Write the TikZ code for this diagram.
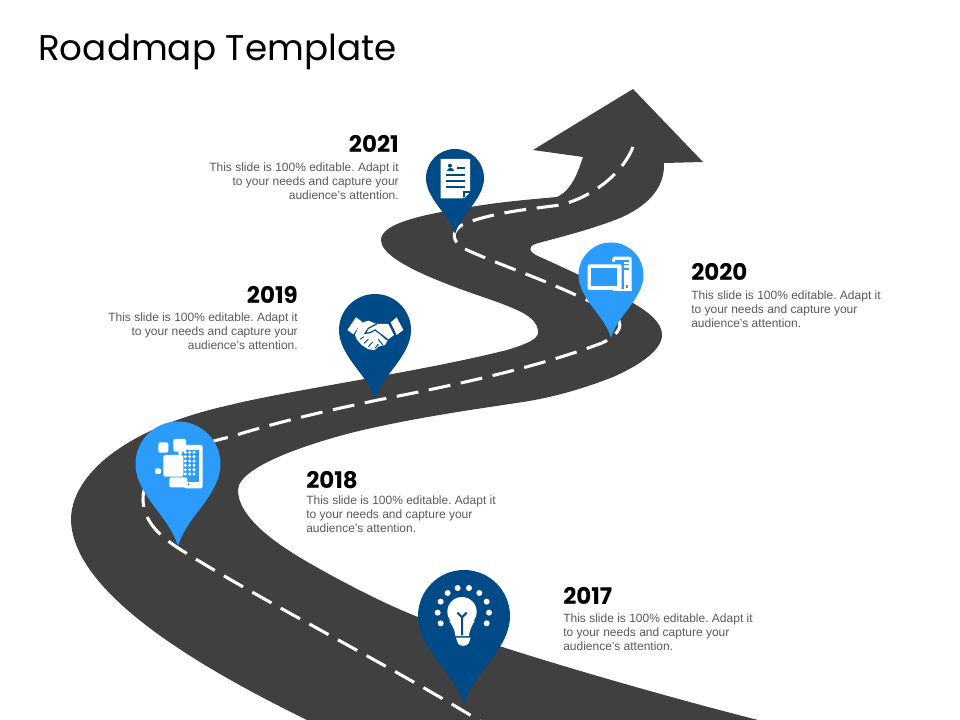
\documentclass[tikz,border=0pt]{standalone}
\usepackage{fontspec}
\setmainfont{Liberation Sans}
\newfontfamily\headfont{Poppins}
\definecolor{roadgray}{HTML}{404040}
\definecolor{pindark}{HTML}{004B87}
\definecolor{pinlight}{HTML}{2B9CFC}
\definecolor{bodygray}{HTML}{595959}
\tikzset{
  yearlabel/.style={inner sep=0pt,font=\headfont\bfseries\fontsize{17.2}{18}\selectfont,text=black},
  bodyleft/.style={inner sep=0pt,anchor=north west,align=left,text=bodygray,font=\frenchspacing\fontsize{9}{10.5}\selectfont},
  bodyright/.style={inner sep=0pt,anchor=north east,align=right,text=bodygray,font=\frenchspacing\fontsize{9}{10.5}\selectfont},
}
\newcommand{\mappin}[4]{% cx cy r colour
  \begin{scope}[shift={(#1,#2)},scale=#3]
    \fill[#4] (0,0) circle[radius=1];
    \fill[#4] (-0.93,0.37) .. controls (-0.68,1.0) and (-0.2,1.3) .. (0,1.93)
       .. controls (0.2,1.3) and (0.68,1.0) .. (0.93,0.37) -- cycle;
  \end{scope}}
\begin{document}
\begin{tikzpicture}[x=0.75pt,y=-0.75pt]
\useasboundingbox (0,0) rectangle (960,720);
% road
\fill[roadgray] (307,720) .. controls (205,670) and (73,595) .. (71,520)
  .. controls (71,475) and (125,428) .. (230,405)
  .. controls (290,390) and (420,372) .. (507,350)
  .. controls (530,343) and (540,338) .. (538,330)
  .. controls (536,316) and (515,309) .. (500,303)
  .. controls (470,292) and (381,265) .. (381,240)
  .. controls (381,222) and (430,213) .. (483,205)
  .. controls (510,201) and (535,199) .. (557,197)
  .. controls (572,190) and (578,172) .. (583,157)
  -- (533,150) -- (633,89) -- (703,162) -- (664,163)
  .. controls (665,190) and (645,207) .. (620,218)
  .. controls (590,230) and (560,237) .. (535,244)
  .. controls (528,247) and (528,252) .. (540,257)
  .. controls (560,266) and (600,284) .. (633,303)
  .. controls (650,313) and (662,323) .. (662,335)
  .. controls (662,350) and (640,365) .. (613,377)
  .. controls (585,388) and (555,397) .. (523,402)
  .. controls (470,410) and (420,417) .. (363,430)
  .. controls (320,440) and (238,465) .. (238,490)
  .. controls (238,525) and (300,558) .. (327,573)
  .. controls (360,591) and (390,606) .. (418,617)
  .. controls (470,640) and (640,690) .. (758,720)
  -- cycle;
% centre line, drawn from the arrow end down
\draw[white,line width=2.3pt,dash pattern=on 16.5pt off 8pt]
  (633,147) .. controls (622,175) and (590,198) .. (560,205)
  .. controls (540,208) and (490,212) .. (462,225)
  .. controls (450,232) and (452,243) .. (467,250)
  .. controls (500,265) and (540,278) .. (580,297)
  .. controls (590,302) and (610,308) .. (617,318)
  .. controls (625,327) and (615,337) .. (602,343)
  .. controls (530,370) and (440,388) .. (378,400)
  .. controls (350,406) and (290,418) .. (230,437)
  .. controls (180,448) and (142,470) .. (143,500)
  .. controls (144,522) and (160,536) .. (178,548)
  .. controls (260,600) and (380,660) .. (480,721);
% pins
\mappin{464}{616}{46}{pindark}
\mappin{178}{464}{42.5}{pinlight}
\mappin{375}{330}{36}{pindark}
\mappin{611}{275}{32.5}{pinlight}
\mappin{455}{178}{29}{pindark}
% icon 2017 bulb
\begin{scope}[shift={(400,560)},scale=1/3]
  \foreach \px/\py in {113/158,122/125,143/99,173/84,207/84,238/99,260/125,267/158,260/190,122/190}
    \fill[white] (\px,\py) circle[radius=9];
  \fill[white] (186,155) circle[radius=44];
  \fill[white] (148,182) .. controls (158,200) and (165,210) .. (166,228) -- (207,228) .. controls (208,210) and (215,200) .. (224,182) -- cycle;
  \draw[pindark,line width=1.5pt] (186,226) -- (186,172) -- (172,158) (186,172) -- (200,158);
  \fill[white] (168,233) -- (212,233) -- (206,250) .. controls (200,260) and (180,260) .. (174,250) -- cycle;
\end{scope}
% icon 2018 tablet and tiles
\begin{scope}[shift={(60,280)},scale=1/3]
  \fill[white,rounded corners=1.5pt] (372,495) rectangle (428,625);
  \fill[pinlight] (368,510) rectangle (418,605);
  \foreach \py in {517,530,543,556,569,582}
    \foreach \px in {376,389,402}
      \fill[white] (\px,\py) circle[radius=5];
  \fill[pinlight] (385,613) circle[radius=4];
  \fill[white,rounded corners=1.5pt] (295,487) rectangle (325,518);
  \fill[white,rounded corners=1.5pt] (340,477) rectangle (378,515);
  \fill[white,rounded corners=1.5pt] (310,525) rectangle (370,590);
  \fill[white,rounded corners=1.5pt] (285,565) rectangle (303,582);
  \fill[white,rounded corners=1.5pt] (328,592) rectangle (382,622);
  \fill[white,rounded corners=1pt] (355,512) rectangle (366,525);
\end{scope}
% icon 2019 handshake
\begin{scope}[shift={(60,280)},scale=1/3]
  \fill[white] (862,150) -- (888,112) -- (906,125) -- (880,163) -- cycle;
  \fill[white] (992,127) -- (1010,112) -- (1030,150) -- (1010,165) -- cycle;
  \fill[white] (900,130) -- (925,122) -- (950,132) -- (985,132) -- (1002,165) -- (985,178) -- (975,195) -- (955,200) -- (945,210) -- (925,208) -- (905,195) -- (890,178) -- (885,165) -- cycle;
  \draw[pindark,line width=0.9pt] (950,132) -- (925,145) -- (915,160) -- (930,158) -- (945,150) -- (985,180);
  \draw[pindark,line width=0.7pt] (900,178) -- (912,170) (912,190) -- (925,178) (925,200) -- (938,186) (945,205) -- (955,192) (968,195) -- (955,178) (980,180) -- (965,165);
\end{scope}
% icon 2020 computer
\begin{scope}[shift={(400,80)},scale=1/3]
  \fill[white,rounded corners=1.5pt] (637,530) rectangle (695,632);
  \fill[pinlight] (645,540) rectangle (688,545);
  \fill[pinlight] (645,551) rectangle (688,556);
  \fill[pinlight] (672,565) rectangle (688,570);
  \fill[pinlight] (677,616) rectangle (685,624);
  \fill[pinlight] (630,546) rectangle (672,637);
  \fill[white,rounded corners=1.5pt] (563,553) rectangle (665,630);
  \fill[pinlight] (572,565) rectangle (652,618);
  \fill[white] (640,628) rectangle (695,632);
\end{scope}
% icon 2021 document
\begin{scope}[shift={(400,80)},scale=1/3]
  \fill[white] (122,237) -- (210,237) -- (210,333) -- (188,355) -- (122,355) -- cycle;
  \fill[pindark] (150,257) circle[radius=6];
  \fill[pindark] (140,274) .. controls (140,262) and (162,262) .. (162,274) -- cycle;
  \fill[pindark] (170,261) rectangle (196,266);
  \fill[pindark] (137,283) rectangle (196,288);
  \fill[pindark] (137,300) rectangle (196,305);
  \fill[pindark] (137,318) rectangle (196,323);
  \fill[white] (192,337) -- (210,337) -- (192,355) -- cycle;
  \fill[pindark] (190,334) rectangle (210,338);
  \fill[pindark] (190,334) rectangle (194,352);
\end{scope}
% texts
\node[inner sep=0pt,anchor=base west,font=\headfont\fontsize{26.8}{32}\selectfont] (title) at (38,61) {Roadmap Template};
\node[yearlabel,anchor=base east] (y21) at (399,153) {2021};
\node[bodyright] (t21) at (399,163) {This slide is 100\% editable. Adapt it\\to your needs and capture your\\audience's attention.};
\node[yearlabel,anchor=base west] (y20) at (691,281) {2020};
\node[bodyleft] (t20) at (691,291) {This slide is 100\% editable. Adapt it\\to your needs and capture your\\audience's attention.};
\node[yearlabel,anchor=base east] (y19) at (298,303) {2019};
\node[bodyright] (t19) at (298,313) {This slide is 100\% editable. Adapt it\\to your needs and capture your\\audience's attention.};
\node[yearlabel,anchor=base west] (y18) at (306,488) {2018};
\node[bodyleft] (t18) at (306,496) {This slide is 100\% editable. Adapt it\\to your needs and capture your\\audience's attention.};
\node[yearlabel,anchor=base west] (y17) at (563,604) {2017};
\node[bodyleft] (t17) at (563,614) {This slide is 100\% editable. Adapt it\\to your needs and capture your\\audience's attention.};
\end{tikzpicture}
\end{document}
